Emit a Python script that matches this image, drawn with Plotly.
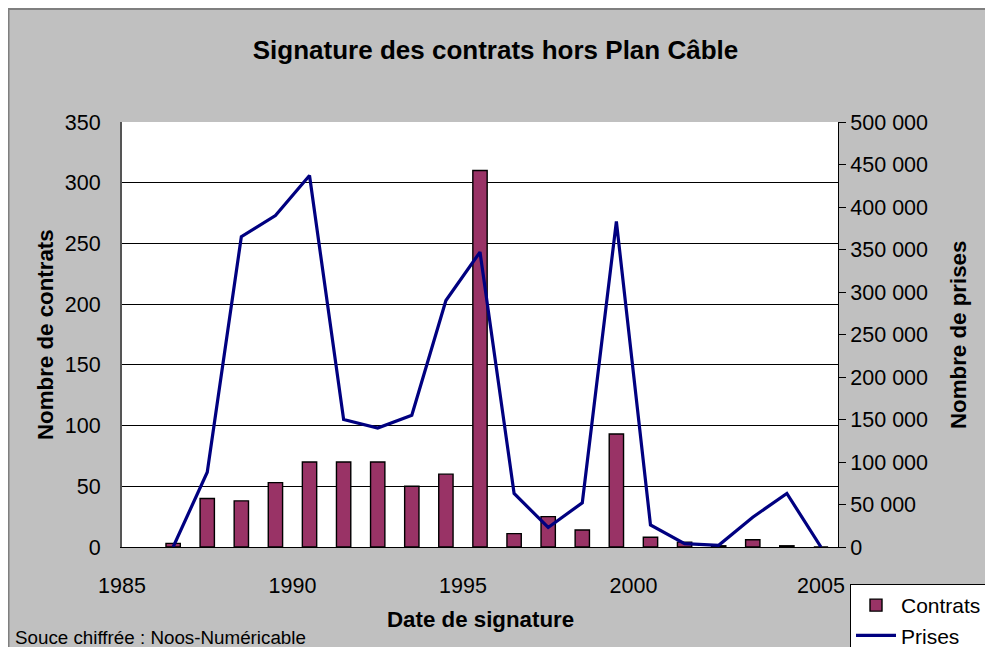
import plotly.graph_objects as go

years = [1986, 1987, 1988, 1989, 1990, 1991, 1992, 1993, 1994, 1995,
         1996, 1997, 1998, 1999, 2000, 2001, 2002, 2003, 2004, 2005]
contrats = [3, 40, 38, 53, 70, 70, 70, 50, 60, 310,
            11, 25, 14, 93, 8, 4, 1, 6, 1, 0]
prises = [0, 88000, 365000, 390000, 437000, 150000, 140000, 155000, 290000, 347000,
          63000, 23000, 52000, 383000, 26000, 4000, 2000, 35000, 63000, 0]

x_tick_labels = ["1985", "1990", "1995", "2000", "2005"]
x_tick_pos = [1984.5, 1989.5, 1994.5, 1999.5, 2004.5]
x_label_pos = [1984.5, 1989.5, 1994.5, 1999.5, 2005.0]
left_ticks = [0, 50, 100, 150, 200, 250, 300, 350]
right_ticks = [0, 50000, 100000, 150000, 200000, 250000, 300000, 350000, 400000, 450000, 500000]

FONT = "Liberation Sans, Arial, sans-serif"
TICKFONT = dict(size=21.5, family=FONT, color="black")
CLEAR = "rgba(0,0,0,0)"

W, H = 977, 639
ML, MR, MT, MB = 114, 147, 114, 100
PW, PH = W - ML - MR, H - MT - MB

fx = lambda px: (px - ML) / PW
fy = lambda py: (H - MB - py) / PH

fig = go.Figure()
fig.add_trace(go.Bar(
    x=years, y=contrats, name="Contrats",
    marker=dict(color="#993366", line=dict(color="black", width=1.4)),
    width=0.42, yaxis="y",
))
fig.add_trace(go.Scatter(
    x=years, y=prises, name="Prises", mode="lines",
    line=dict(color="#000080", width=3.2), yaxis="y2",
))

common_x = dict(range=[1984.5, 2005.5], showgrid=False, zeroline=False)

fig.update_layout(
    width=W, height=H,
    paper_bgcolor="#c0c0c0", plot_bgcolor="white",
    margin=dict(l=ML, r=MR, t=MT, b=MB, autoexpand=False),
    separators=", ",
    font=dict(family=FONT, size=21.5, color="black"),
    title=dict(text="<b>Signature des contrats hors Plan Câble</b>",
               x=487.5 / W, xanchor="center", y=1 - 41.5 / H, yanchor="middle",
               font=dict(size=26)),
    showlegend=True,
    legend=dict(x=fx(842), y=fy(576), xanchor="left", yanchor="top",
                bgcolor="white", bordercolor="black", borderwidth=1,
                font=dict(size=21), tracegroupgap=0, itemwidth=40),
    xaxis=dict(
        **common_x,
        tickvals=x_label_pos, ticktext=x_tick_labels,
        ticks="outside", ticklen=19, tickcolor=CLEAR,
        showline=True, linecolor="black", linewidth=1,
        tickfont=TICKFONT,
    ),
    xaxis2=dict(
        **common_x, overlaying="x", side="bottom",
        tickvals=x_tick_pos, showticklabels=False,
        ticks="outside", ticklen=6, tickcolor="#404040", tickwidth=1,
        showline=False,
    ),
    xaxis3=dict(
        **common_x, overlaying="x", side="bottom",
        tickvals=x_tick_pos, showticklabels=False,
        ticks="inside", ticklen=7, tickcolor="#404040", tickwidth=1,
        showline=False,
    ),
    yaxis=dict(
        range=[0, 350], tickvals=left_ticks,
        ticks="outside", ticklen=15, tickcolor=CLEAR,
        showline=True, linecolor="#555555", linewidth=2,
        showgrid=True, gridcolor="black", gridwidth=1,
        zeroline=False, tickfont=TICKFONT,
    ),
    yaxis3=dict(
        range=[0, 350], tickvals=left_ticks, overlaying="y", side="left",
        ticks="outside", ticklen=6, tickcolor="black",
        showticklabels=False, showgrid=False, zeroline=False, showline=False,
    ),
    yaxis5=dict(
        range=[0, 350], tickvals=left_ticks, overlaying="y", side="left",
        ticks="inside", ticklen=7, tickcolor="black",
        showticklabels=False, showgrid=False, zeroline=False, showline=False,
    ),
    yaxis2=dict(
        range=[0, 500000], tickvals=right_ticks, tickformat=",d",
        overlaying="y", side="right",
        ticks="outside", ticklen=7, tickcolor="black",
        showline=True, linecolor="black", linewidth=1,
        showgrid=False, zeroline=False, tickfont=TICKFONT,
    ),
    yaxis4=dict(
        range=[0, 500000], tickvals=right_ticks, overlaying="y", side="right",
        ticks="inside", ticklen=6, tickcolor="black",
        showticklabels=False, showgrid=False, zeroline=False, showline=False,
    ),
)

# chart-area border (top and left edges)
fig.add_shape(type="line", xref="paper", yref="paper",
              x0=fx(0), x1=fx(W), y0=fy(1), y1=fy(1),
              line=dict(color="#7f7f7f", width=2))
fig.add_shape(type="line", xref="paper", yref="paper",
              x0=fx(0.5), x1=fx(0.5), y0=fy(0), y1=fy(H),
              line=dict(color="#7f7f7f", width=2))

fig.add_annotation(
    text="<b>Nombre de contrats</b>", textangle=-90,
    xref="paper", yref="paper", x=fx(37), y=fy(327), xanchor="center", yanchor="middle",
    showarrow=False, font=dict(size=22.3, family=FONT),
)
fig.add_annotation(
    text="<b>Nombre de prises</b>", textangle=-90,
    xref="paper", yref="paper", x=fx(950), y=fy(327), xanchor="center", yanchor="middle",
    showarrow=False, font=dict(size=22.3, family=FONT),
)
fig.add_annotation(
    text="<b>Date de signature</b>",
    xref="paper", yref="paper", x=fx(472), y=fy(611), xanchor="center", yanchor="middle",
    showarrow=False, font=dict(size=22.3, family=FONT),
)
fig.add_annotation(
    text="Souce chiffrée : Noos-Numéricable",
    xref="paper", yref="paper", x=fx(5), y=fy(629),
    xanchor="left", yanchor="middle", showarrow=False,
    font=dict(size=18.8, family=FONT),
)

fig.write_html("out.html")
